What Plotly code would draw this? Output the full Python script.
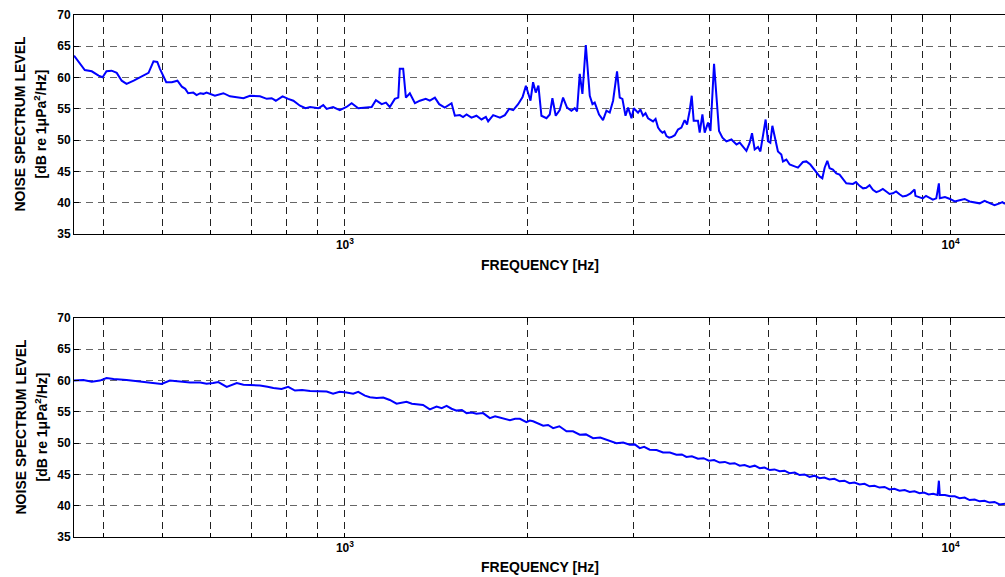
import plotly.graph_objects as go

# ---------------- data ----------------
top_freq = [357, 372, 382, 392, 398, 404, 412, 420, 428, 436, 448, 456, 465, 474, 483, 490, 495,
            507, 518, 529, 538, 545, 551, 562, 569, 577, 584, 591, 610, 630, 646, 680, 697, 724,
            743, 757, 769, 789, 806, 822, 843, 861, 876, 904, 921, 933, 956, 981, 1006, 1026,
            1052, 1086, 1107, 1125, 1150, 1169, 1186, 1209, 1225, 1232, 1248, 1261, 1280, 1305,
            1330, 1360, 1381, 1408, 1431, 1462, 1500, 1519, 1548, 1567, 1588, 1618, 1649, 1681,
            1709, 1724, 1757, 1803, 1837, 1867, 1896, 1932, 1965, 1990, 2007, 2025, 2045, 2066,
            2087, 2111, 2152, 2179, 2201, 2229, 2263, 2292, 2327, 2366, 2396, 2417, 2442, 2467,
            2499, 2521, 2537, 2563, 2585, 2628, 2668, 2703, 2737, 2772, 2814, 2843, 2872, 2906,
            2935, 2973, 2999, 3048, 3075, 3106, 3136, 3166, 3196, 3227, 3258, 3289, 3318, 3345,
            3370, 3396, 3430, 3461, 3505, 3548, 3594,
            3639, 3672, 3709, 3738, 3766, 3828, 3853, 3893, 3927, 3977, 4014, 4069, 4106, 4147,
            4201, 4265, 4347, 4431, 4486, 4602, 4660, 4701, 4749, 4809, 4853, 4901, 4951, 4995,
            5040, 5079, 5123, 5188, 5255, 5288, 5357, 5424, 5528, 5598, 5705, 5779, 5868, 5965,
            6079, 6142, 6196, 6259, 6314, 6394, 6477, 6558, 6642, 6728, 6899, 6980, 7076, 7170,
            7259, 7350, 7444, 7540, 7635, 7730, 7832, 7930, 8031, 8130, 8237, 8340, 8450, 8590,
            8722, 8750, 8870, 9000, 9110, 9233, 9350, 9471, 9566, 9600, 9790, 9980, 10160, 10350,
            10550, 10750, 10960, 11170, 11380, 11600, 11820, 12050, 12180, 12300]
top_db = [63.5, 61.2, 61.0, 60.3, 60.05, 61.0, 61.1, 60.75, 59.5, 59.0, 59.5, 59.9, 60.4, 60.75,
          62.6, 62.5, 61.4, 59.25, 59.25, 59.5, 58.55, 58.2, 57.5, 57.6, 57.2, 57.5, 57.4, 57.6,
          57.1, 57.5, 57.0, 56.7, 57.1, 57.0, 56.6, 56.7, 56.3, 57.0, 56.6, 56.3, 55.5, 55.1,
          55.3, 55.1, 55.6, 55.0, 55.3, 54.8, 55.3, 55.9, 55.1, 55.2, 55.3, 56.4, 55.75, 56.0,
          55.3, 56.6, 56.8, 61.4, 61.4, 56.8, 57.5, 55.9, 56.3, 56.6, 56.3, 56.8, 55.75, 55.2,
          55.9, 53.9, 54.0, 53.7, 54.1, 53.6, 53.9, 53.3, 53.7, 53.0, 54.0, 53.6, 54.0, 55.0,
          54.8, 55.75, 56.9, 58.7, 57.4, 56.3, 59.25, 57.6, 58.7, 53.9, 53.5, 54.1, 56.7, 53.9,
          54.8, 56.8, 55.2, 54.7, 55.1, 54.6, 60.6, 57.4, 65.2, 61.1, 57.1, 55.75, 56.0, 54.1,
          53.2, 54.7, 54.4, 56.3, 61.0, 56.8, 56.6, 53.9, 55.2, 53.5, 55.1, 54.4, 54.9, 53.9,
          54.3, 53.5, 53.2, 53.0, 53.4, 52.0, 51.5, 51.2, 51.4, 50.65, 50.4, 50.5, 50.8, 51.7,
          52.0, 53.2, 52.5, 54.7, 57.1, 53.1, 53.1,
          51.2, 54.1, 51.2, 52.8, 51.45, 62.2, 57.4, 51.45, 50.4, 49.8, 50.1, 49.3, 49.6, 48.3,
          49.6, 51.1, 48.5, 48.9, 48.2, 50.65, 53.3, 49.85, 49.6, 52.3, 50.4, 48.2, 47.7, 46.6,
          46.9, 46.1, 45.8, 45.6, 46.5, 46.6, 46.1, 45.3, 44.2, 43.9, 45.6, 46.7, 45.5, 45.3,
          44.7, 44.5, 43.7, 43.1, 43.0, 43.3, 42.7, 42.3, 42.4, 42.8, 42.05, 41.7, 41.9, 42.2,
          41.8, 41.4, 41.5, 41.8, 41.35, 41.0, 41.1, 41.5, 42.1, 41.1, 40.9, 40.7, 41.1, 40.8,
          40.5, 40.7, 43.1, 40.7, 40.9, 40.6, 40.2, 40.4, 40.6, 40.2, 40.0, 39.9, 40.3, 39.9,
          39.6, 39.9, 40.1, 39.8]

bottom_freq = [357, 370, 382, 394, 404, 415, 436, 459, 477, 498,
               514, 534, 555, 577, 591, 606, 618, 638, 663, 680,
               700, 724, 745, 762, 786, 806, 827, 850, 876, 905,
               933, 956, 980, 1006, 1032, 1052, 1079, 1100, 1128, 1157,
               1186, 1217, 1240, 1264, 1290, 1313, 1346, 1381, 1417, 1445,
               1472, 1500, 1529, 1560, 1588, 1620, 1649, 1691, 1735, 1770,
               1803, 1840, 1873, 1910, 1945, 1994, 2020, 2045, 2085, 2125,
               2165, 2207, 2260, 2322, 2380, 2442, 2500, 2569, 2640, 2703,
               2750, 2807, 2880, 2953, 3010, 3068, 3120, 3186, 3270, 3352,
               3440, 3527, 3600, 3663, 3740, 3828, 3910, 3990, 4070, 4157,
               4240, 4320, 4400, 4486, 4570, 4660, 4750, 4840, 4930, 5030,
               5120, 5222, 5320, 5420, 5530, 5634, 5740, 5850, 5960, 6079,
               6190, 6310, 6430, 6558, 6680, 6810, 6940, 7076, 7210, 7350,
               7490, 7635, 7780, 7930, 8080, 8237, 8400, 8560, 8720, 8887,
               9040, 9200, 9360, 9518, 9566, 9600, 9790, 9980, 10160, 10350,
               10550, 10750, 10960, 11170, 11380, 11600, 11820, 12050, 12300]
bottom_db = [60.0, 60.1, 59.8, 60.0, 60.4, 60.25, 60.1, 59.85, 59.7, 59.45,
             60.0, 59.8, 59.7, 59.7, 59.5, 59.6, 59.75, 59.0, 59.6, 59.35,
             59.3, 59.2, 59.0, 58.8, 58.65, 59.0, 58.4, 58.5, 58.35, 58.3,
             58.25, 57.9, 58.2, 58.1, 57.9, 58.2, 57.6, 57.35, 57.2, 57.3,
             56.9, 56.3, 56.5, 56.6, 56.3, 56.25, 56.1, 55.4, 55.85, 55.6,
             55.95, 55.5, 55.2, 55.3, 54.8, 54.9, 54.7, 54.8, 54.0, 54.3,
             54.1, 53.8, 53.65, 53.9, 53.9, 53.35, 53.6, 53.5, 53.1, 52.8,
             52.9, 52.4, 52.7, 51.9, 51.9, 51.35, 51.4, 50.8, 50.9, 50.55,
             50.4, 50.0, 50.1, 49.75, 49.8, 49.2, 49.4, 48.95, 48.9, 48.5,
             48.5, 48.15, 48.2, 47.8, 47.9, 47.5, 47.6, 47.2, 47.3, 46.9,
             47.0, 46.7, 46.8, 46.4, 46.5, 46.2, 46.4, 46.0, 46.1, 45.7,
             45.8, 45.5, 45.6, 45.2, 45.3, 44.9, 45.0, 44.6, 44.8, 44.4,
             44.5, 44.2, 44.3, 43.9, 44.0, 43.6, 43.7, 43.4, 43.5, 43.1,
             43.2, 42.9, 43.0, 42.6, 42.7, 42.4, 42.5, 42.2, 42.3, 42.0,
             42.1, 41.8, 41.9, 41.7, 44.0, 41.7, 41.7, 41.5, 41.5, 41.2,
             41.3, 40.9, 41.0, 40.7, 40.8, 40.5, 40.6, 40.2, 40.3]

grid_freqs = [400, 500, 600, 700, 800, 900, 1000, 2000, 3000, 4000, 5000, 6000, 7000, 8000,
              9000, 10000]
grid_labels = ["", "", "", "", "", "", "10<sup>3</sup>", "", "", "", "", "", "", "", "",
               "10<sup>4</sup>"]
db_ticks = [35, 40, 45, 50, 55, 60, 65, 70]

x_title = "FREQUENCY [Hz]"
y_title_1 = "NOISE SPECTRUM LEVEL"
y_title_2 = "[dB re 1μPa<sup>2</sup>/Hz]"

# ---------------- figure ----------------
W, H = 1005, 577
FONT = "Liberation Sans, Arial, sans-serif"
x_range = [2.5527, 4.0899]

fig = go.Figure()
fig.add_trace(go.Scatter(x=top_freq, y=top_db, mode="lines",
                         line=dict(color="#0000FF", width=2), xaxis="x", yaxis="y",
                         showlegend=False))
fig.add_trace(go.Scatter(x=bottom_freq, y=bottom_db, mode="lines",
                         line=dict(color="#0000FF", width=2), xaxis="x2", yaxis="y2",
                         showlegend=False))

xdom = [74 / W, 1.0]
ydom_top = [1 - 234 / H, 1 - 15 / H]
ydom_bot = [1 - 537 / H, 1 - 318 / H]

tickfont = dict(family=FONT, size=12, color="black", weight="bold")

def xaxis_def(anchor):
    return dict(type="log", range=x_range, domain=xdom, anchor=anchor, automargin=False,
                tickmode="array", tickvals=grid_freqs, ticktext=grid_labels,
                ticks="inside", ticklen=4, tickcolor="black",
                showline=True, linecolor="black", linewidth=1, mirror="ticks",
                showgrid=True, gridcolor="#222222", gridwidth=1, griddash="7px,5px",
                zeroline=False, tickfont=tickfont)

def yaxis_def(dom, anchor):
    return dict(range=[35, 70], domain=dom, anchor=anchor, automargin=False,
                tickmode="array", tickvals=db_ticks,
                ticks="inside", ticklen=5, tickcolor="black",
                showline=True, linecolor="black", linewidth=1, mirror=False,
                showgrid=True, gridcolor="#666666", gridwidth=1, griddash="7px,5px",
                zeroline=False, tickfont=tickfont)

fig.update_layout(
    width=W, height=H,
    margin=dict(l=0, r=0, t=0, b=0, pad=0, autoexpand=False),
    paper_bgcolor="white", plot_bgcolor="white",
    xaxis=xaxis_def("y"), yaxis=yaxis_def(ydom_top, "x"),
    xaxis2=xaxis_def("y2"), yaxis2=yaxis_def(ydom_bot, "x2"),
)

title_font = dict(family=FONT, size=14, color="black", weight="bold")
ann = []
for yc in [(15 + 234) / 2, (318 + 537) / 2]:
    ann.append(dict(text=y_title_1, x=20 / W, y=1 - yc / H, xref="paper", yref="paper",
                    textangle=-90, showarrow=False, font=title_font,
                    xanchor="center", yanchor="middle"))
    ann.append(dict(text=y_title_2, x=41 / W, y=1 - yc / H, xref="paper", yref="paper",
                    textangle=-90, showarrow=False, font=title_font,
                    xanchor="center", yanchor="middle"))
for yc in [265, 567]:
    ann.append(dict(text=x_title, x=539.5 / W, y=1 - yc / H, xref="paper", yref="paper",
                    showarrow=False, font=title_font, xanchor="center", yanchor="middle"))
fig.update_layout(annotations=ann)

fig.write_html("out.html", config={"displayModeBar": False},
               post_script="document.body.style.margin='0';")
